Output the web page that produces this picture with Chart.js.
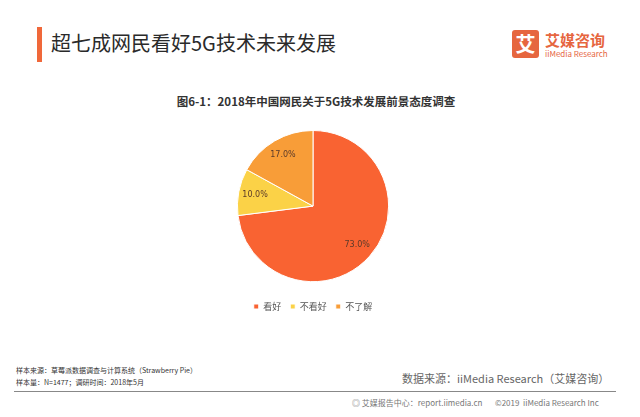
<!DOCTYPE html>
<html>
<head>
<meta charset="utf-8">
<script src="https://cdn.jsdelivr.net/npm/chart.js@4.4.0/dist/chart.umd.min.js"></script>
<style>
    body { margin: 0; width: 640px; height: 417px; background: #fff; position: relative; overflow: hidden;
           font-family: "Noto Sans CJK SC", "Noto Sans", sans-serif; }
    .abs { position: absolute; white-space: nowrap; }
    #bar { left: 37px; top: 27px; width: 5px; height: 35px; background: #f0683a; }
    #title { left: 51px; top: 29px; font-size: 20px; color: #2a2a2a; line-height: 28px; }
    #logoBox { left: 512px; top: 30px; width: 27px; height: 28px; background: #e6663f; border-radius: 3px;
               color: #fff; font-size: 20px; line-height: 28px; text-align: center; font-weight: bold; }
    #logoCn { left: 545px; top: 30px; font-size: 15px; color: #e6663f; font-weight: bold; line-height: 20px; }
    #logoEn { left: 545px; top: 49px; font-size: 8px; color: #e6663f; line-height: 10px; }
    #sub { left: 0; width: 632px; top: 93px; text-align: center; font-size: 11.5px; font-weight: bold; color: #333; }
    #chartBox { position: absolute; left: 158px; top: 130px; width: 310px; height: 191px; }
    .note { left: 16px; font-size: 7px; color: #333; line-height: 9px; }
    #src { left: 402px; top: 371px; font-size: 11px; color: #666; line-height: 14px; }
    #line { left: 14px; top: 391px; width: 602px; height: 1px; background: #888; }
    .foot { top: 398px; font-size: 8px; color: #777; line-height: 10px; }
</style>
</head>
<body>
<div id="bar" class="abs"></div>
<div id="title" class="abs">超七成网民看好5G技术未来发展</div>
<div id="logoBox" class="abs">艾</div>
<div id="logoCn" class="abs">艾媒咨询</div>
<div id="logoEn" class="abs">iiMedia Research</div>
<div id="sub" class="abs">图6-1：2018年中国网民关于5G技术发展前景态度调查</div>
<div id="chartBox"><canvas id="pieChart"></canvas></div>
<div class="abs note" style="top:366px">样本来源：草莓派数据调查与计算系统（Strawberry Pie）</div>
<div class="abs note" style="top:378px">样本量：N=1477；调研时间：2018年5月</div>
<div id="src" class="abs">数据来源：iiMedia Research（艾媒咨询）</div>
<div id="line" class="abs"></div>
<div class="abs foot" style="left:352px">◎ 艾媒报告中心：report.iimedia.cn</div>
<div class="abs foot" style="left:495px">©2019 &nbsp;iiMedia Research Inc</div>

<script>
const categories = ['看好', '不看好', '不了解'];
const shares = [73.0, 10.0, 17.0];
const sliceColors = ['#f96332', '#fbd247', '#f89d38'];

// draw the percentage inside each slice
const sliceLabels = {
    id: 'sliceLabels',
    afterDatasetsDraw(chart) {
        const ctx = chart.ctx;
        const meta = chart.getDatasetMeta(0);
        ctx.save();
        ctx.font = '8px "DejaVu Sans", sans-serif';
        ctx.fillStyle = '#5a3a2a';
        ctx.textAlign = 'center';
        ctx.textBaseline = 'middle';
        meta.data.forEach((arc, i) => {
            const mid = (arc.startAngle + arc.endAngle) / 2;
            const r = arc.outerRadius * 0.78;
            ctx.fillText(shares[i].toFixed(1) + '%', arc.x + Math.cos(mid) * r, arc.y + Math.sin(mid) * r);
        });
        ctx.restore();
    }
};

new Chart(document.getElementById('pieChart'), {
    type: 'pie',
    data: {
        labels: categories,
        datasets: [{
            data: shares,
            backgroundColor: sliceColors,
            borderColor: '#ffffff',
            borderWidth: 1
        }]
    },
    options: {
        responsive: true,
        maintainAspectRatio: false,
        animation: false,
        layout: { padding: 0 },
        plugins: {
            legend: {
                position: 'bottom',
                // empty title only adds a little space above the items
                title: { display: true, text: ' ', padding: 3, font: { size: 4 } },
                labels: {
                    boxWidth: 5,
                    boxHeight: 5,
                    padding: 9,
                    color: '#555',
                    font: { size: 9, family: '"Noto Sans CJK SC", sans-serif' }
                }
            },
            tooltip: { enabled: false }
        }
    },
    plugins: [sliceLabels]
});
</script>
</body>
</html>
